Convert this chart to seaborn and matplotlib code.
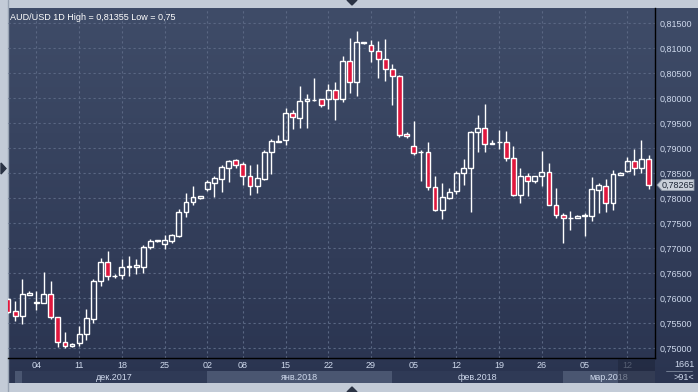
import numpy as np
import pandas as pd
import matplotlib.pyplot as plt
import seaborn as sns
from matplotlib.colors import LinearSegmentedColormap
from matplotlib.patches import Rectangle, Polygon

# ---- data (daily AUD/USD candles, 29 Nov 2017 .. 13 Mar 2018, Sundays included) ----
opens = [0.7598, 0.7574, 0.7564, 0.7607, 0.7591, 0.7591, 0.7608, 0.7562, 0.7512, 0.7504,
         0.7510, 0.7528, 0.7559, 0.7634, 0.7672, 0.7645, 0.7647, 0.7663, 0.7663, 0.7663,
         0.7703, 0.7714, 0.7708, 0.7715, 0.7725, 0.7772, 0.7792, 0.7800, 0.7819, 0.7831,
         0.7839, 0.7861, 0.7876, 0.7868, 0.7844, 0.7824, 0.7839, 0.7892, 0.7913, 0.7916,
         0.7970, 0.7961, 0.7994, 0.7997, 0.7998, 0.7999, 0.8016, 0.7999, 0.8074, 0.8032,
         0.8110, 0.8106, 0.8094, 0.8078, 0.8058, 0.8044, 0.7928, 0.7904, 0.7892, 0.7892,
         0.7822, 0.7776, 0.7801, 0.7815, 0.7850, 0.7860, 0.7932, 0.7940, 0.7910, 0.7912,
         0.7912, 0.7881, 0.7806, 0.7844, 0.7835, 0.7844, 0.7852, 0.7787, 0.7766, 0.7760,
         0.7760, 0.7764, 0.7765, 0.7817, 0.7825, 0.7791, 0.7847, 0.7855, 0.7874, 0.7860,
         0.7878]
highs = [0.7600, 0.7595, 0.7638, 0.7614, 0.7614, 0.7653, 0.7635, 0.7563, 0.7533, 0.7511,
         0.7545, 0.7579, 0.7639, 0.7681, 0.7695, 0.7649, 0.7679, 0.7685, 0.7679, 0.7706,
         0.7719, 0.7717, 0.7726, 0.7729, 0.7778, 0.7810, 0.7825, 0.7805, 0.7837, 0.7845,
         0.7867, 0.7876, 0.7878, 0.7872, 0.7867, 0.7869, 0.7897, 0.7919, 0.7927, 0.7980,
         0.7977, 0.8025, 0.8009, 0.8040, 0.7999, 0.8029, 0.8033, 0.8085, 0.8121, 0.81355,
         0.8112, 0.8117, 0.8115, 0.8119, 0.8068, 0.8047, 0.7932, 0.7955, 0.7897, 0.7913,
         0.7845, 0.7830, 0.7820, 0.7854, 0.7878, 0.7934, 0.7967, 0.7989, 0.7916, 0.7937,
         0.7934, 0.7904, 0.7860, 0.7850, 0.7844, 0.7894, 0.7870, 0.7820, 0.7770, 0.7774,
         0.7766, 0.7770, 0.7842, 0.7830, 0.7838, 0.7856, 0.7852, 0.7882, 0.7898, 0.7916,
         0.7886]
lows = [0.7570, 0.7555, 0.7549, 0.7607, 0.7577, 0.7590, 0.7558, 0.7503, 0.7500, 0.7502,
        0.7505, 0.7517, 0.7551, 0.7625, 0.7637, 0.7640, 0.7639, 0.7645, 0.7649, 0.7651,
        0.7699, 0.7713, 0.7699, 0.7711, 0.7722, 0.7763, 0.7787, 0.7798, 0.7815, 0.7803,
        0.7813, 0.7833, 0.7861, 0.7827, 0.7807, 0.7810, 0.7837, 0.7849, 0.7913, 0.7907,
        0.7938, 0.7941, 0.7941, 0.7994, 0.7983, 0.7979, 0.7957, 0.7993, 0.8011, 0.8005,
        0.8108, 0.8073, 0.8041, 0.8035, 0.7987, 0.7922, 0.7920, 0.7887, 0.7835, 0.7817,
        0.7775, 0.7759, 0.7799, 0.7809, 0.7827, 0.7773, 0.7892, 0.7893, 0.7908, 0.7898,
        0.7875, 0.7804, 0.7791, 0.7805, 0.7831, 0.7825, 0.7786, 0.7761, 0.7711, 0.7737,
        0.7760, 0.7725, 0.7754, 0.7770, 0.7773, 0.7777, 0.7847, 0.7852, 0.7846, 0.7851,
        0.7819]
closes = [0.7573, 0.7564, 0.7608, 0.7610, 0.7592, 0.7608, 0.7562, 0.7512, 0.7504, 0.7509,
          0.7528, 0.7560, 0.7634, 0.7672, 0.7644, 0.7645, 0.7663, 0.7664, 0.7666, 0.7703,
          0.7714, 0.7716, 0.7717, 0.7726, 0.7773, 0.7793, 0.7802, 0.7804, 0.7832, 0.7840,
          0.7862, 0.7875, 0.7867, 0.7844, 0.7824, 0.7840, 0.7892, 0.7914, 0.7915, 0.7970,
          0.7962, 0.7994, 0.7998, 0.7997, 0.7986, 0.8016, 0.7999, 0.8074, 0.8032, 0.8112,
          0.8112, 0.8094, 0.8078, 0.8058, 0.8044, 0.7927, 0.7924, 0.7890, 0.7892, 0.7822,
          0.7776, 0.7802, 0.7813, 0.7850, 0.7860, 0.7932, 0.7940, 0.7908, 0.7909, 0.7912,
          0.7881, 0.7806, 0.7844, 0.7835, 0.7844, 0.7852, 0.7786, 0.7766, 0.7760, 0.7761,
          0.7764, 0.7766, 0.7818, 0.7826, 0.7791, 0.7848, 0.7850, 0.7874, 0.7860, 0.7878,
          0.78265]

day_ticks = [4, 10, 16, 22, 28, 33, 39, 45, 51, 57, 63, 69, 75, 81, 87]
day_labels = ["04", "11", "18", "25", "02", "08", "15", "22", "29",
              "05", "12", "19", "26", "05", "12"]
month_names = ["", "дек.2017", "янв.2018", "фев.2018", "мар.2018"]
month_starts = [1, 2, 28, 54, 78]
price_ticks = np.arange(0.750, 0.8151, 0.005)
last_price = 0.78265
title = "AUD/USD 1D High = 0,81355 Low = 0,75"
bars_total = "1661"
bars_shown = ">91<"

# ---- style ----
sns.set_theme(style="dark")
plt.rcParams['font.family'] = ['Liberation Sans', 'DejaVu Sans']
FS = 6.5
RED = '#e0173d'
TXT = '#cfd9ec'
W, H = 698, 392

df = pd.DataFrame({'open': opens, 'high': highs, 'low': lows, 'close': closes})
df['idx'] = np.arange(len(df))
df['top'] = df[['open', 'close']].max(axis=1)
df['bot'] = df[['open', 'close']].min(axis=1)
df['up'] = df['close'] >= df['open']

fig = plt.figure(figsize=(W / 100, H / 100), dpi=100, facecolor='#c3cbd7')

# background panel with gradient (pixel coords)
bg = fig.add_axes([0, 0, 1, 1], zorder=0)
bg.set_xlim(0, W)
bg.set_ylim(H, 0)
bg.axis('off')
grad = LinearSegmentedColormap.from_list('g', ['#3f4c68', '#2a3450'])
bg.imshow(np.linspace(0, 1, 256).reshape(-1, 1), cmap=grad, aspect='auto',
          extent=(8, W, 383, 8), interpolation='bilinear')
bg.plot([7.5, 7.5], [0, 392], color='#98a3b3', lw=1)

# main price axes
ax = fig.add_axes([8 / W, (H - 358) / H, 647 / W, 350 / H], zorder=2)
ax.set_facecolor('none')
ax.set_xlim(0.0, 90.9)
ax.set_ylim(0.74806, 0.81806)

ax.vlines(df['idx'], df['top'], df['high'], color='white', lw=1.0, zorder=3)
ax.vlines(df['idx'], df['low'], df['bot'], color='white', lw=1.0, zorder=3)
ax.bar(df['idx'], df['top'] - df['bot'], bottom=df['bot'], width=0.68,
       color=np.where(df['up'], 'none', RED), edgecolor='white', linewidth=1.0, zorder=4)

ax.yaxis.tick_right()
ax.set_yticks(price_ticks, [f"{v:.5f}".replace('.', ',') for v in price_ticks])
ax.set_xticks(day_ticks, day_labels)
ax.tick_params(axis='y', length=0, pad=3, labelsize=FS, labelcolor=TXT)
ax.tick_params(axis='x', length=0, pad=2.5, labelsize=FS, labelcolor=TXT)
ax.get_xticklabels()[-1].set_color('#8e99ae')
ax.grid(True, color='#5a6783', lw=0.8, ls=(0, (2, 2.5)))
for s in ['left', 'top']:
    ax.spines[s].set_visible(False)
for s in ['right', 'bottom']:
    ax.spines[s].set_color('black')
    ax.spines[s].set_linewidth(1.0)

ax.text(0.003, 0.985, title, transform=ax.transAxes, ha='left', va='top',
        color='white', fontsize=FS)

# month band row
axd = fig.add_axes([8 / W, 9 / H, 647 / W, 25 / H], sharex=ax, zorder=2)
axd.axis('off')
bounds = month_starts + [90.9]
for i, name in enumerate(month_names):
    a, b = bounds[i] - 0.03, bounds[i + 1] - 0.03
    shade = '#4a5671' if i % 2 == 0 else '#2f3a56'
    axd.axvspan(a, b, ymin=0, ymax=0.5, color=shade, lw=0)
    if name:
        axd.text((a + min(b, 90.9)) / 2, 0.24, name, ha='center', va='center',
                 fontsize=FS, color=TXT)

# overlay: last price tag, navigator shade, counters, small arrows
top = fig.add_axes([0, 0, 1, 1], zorder=5)
top.set_xlim(0, W)
top.set_ylim(H, 0)
top.axis('off')

# place the last-price tag at the pixel row of last_price on the price axis
py = top.transData.inverted().transform(ax.transData.transform((0, last_price)))[1]
top.add_patch(Polygon([[657, py], [662, py - 5.5], [694, py - 5.5], [694, py + 5.5],
                       [662, py + 5.5]], fc='#c9cfd9', ec='#8f99a8', lw=0.6))
top.text(678, py, f"{last_price:.5f}".replace('.', ','), ha='center', va='center',
         fontsize=FS, color='#1d2636')

top.add_patch(Rectangle((618, 358.5), 37, 24.5, color='#1d2438', alpha=0.5, lw=0))
top.text(684, 364.5, bars_total, ha='center', va='center', fontsize=FS, color=TXT)
top.plot([666, 692], [371, 371], color='#7d889c', lw=0.6)
top.text(684, 377.5, bars_shown, ha='center', va='center', fontsize=FS, color=TXT)
top.add_patch(Polygon([[1, 163], [1, 174], [6, 168.5]], color='#2b3344'))
top.add_patch(Polygon([[347, 0], [357, 0], [352, 5]], color='#2b3344'))
top.add_patch(Polygon([[347, 392], [357, 392], [352, 387]], color='#2b3344'))

fig.savefig('out.png', dpi=100, facecolor=fig.get_facecolor())
